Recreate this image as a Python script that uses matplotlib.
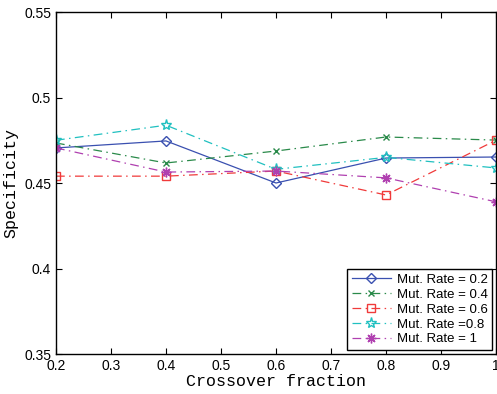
import matplotlib
matplotlib.use("Agg")
import matplotlib.pyplot as plt

x = [0.2, 0.4, 0.6, 0.8, 1.0]
labels = ["Mut. Rate = 0.2", "Mut. Rate = 0.4", "Mut. Rate = 0.6", "Mut. Rate =0.8", "Mut. Rate = 1"]
s02 = [0.4705, 0.4746, 0.4500, 0.4646, 0.4652]
s04 = [0.4734, 0.4617, 0.4687, 0.4769, 0.4751]
s06 = [0.4540, 0.4540, 0.4570, 0.4430, 0.4750]
s08 = [0.4750, 0.4838, 0.4580, 0.4650, 0.4588]
s10 = [0.4705, 0.4564, 0.4570, 0.4530, 0.4390]
xticks = [0.2, 0.3, 0.4, 0.5, 0.6, 0.7, 0.8, 0.9, 1]
yticks = [0.35, 0.4, 0.45, 0.5, 0.55]

plt.rcParams['font.family'] = ['Liberation Sans', 'DejaVu Sans']
fig = plt.figure(figsize=(4.97, 3.94), dpi=100)
ax = fig.add_axes([56/497, 40/394, 440/497, 342/394])

dd = (0, (7, 3.5, 1.2, 3.5))
styles = [
    (s02, '#3a50b0', '-', 'D', 5.5),
    (s04, '#2a8a4a', dd, 'x', 5),
    (s06, '#f03a3a', dd, 's', 6),
    (s08, '#20c0c0', dd, '*', 8),
    (s10, '#b040b0', dd, (8, 2, 0), 7),
]
for (vals, c, ls, m, ms), lab in zip(styles, labels):
    ax.plot(x, vals, color=c, linestyle=ls, marker=m, markersize=ms,
            markerfacecolor='none', markeredgecolor=c, linewidth=0.9,
            markeredgewidth=1.0, label=lab)

ax.set_xlim(0.2, 1.0)
ax.set_ylim(0.35, 0.55)
ax.set_xticks(xticks)
ax.set_xticklabels(['0.2', '0.3', '0.4', '0.5', '0.6', '0.7', '0.8', '0.9', '1'])
ax.set_yticks(yticks)
ax.set_yticklabels(['0.35', '0.4', '0.45', '0.5', '0.55'])
ax.tick_params(direction='in', length=4, labelsize=10, top=True, right=True)
for sp in ax.spines.values():
    sp.set_linewidth(1.0)
ax.set_xlabel('Crossover fraction', family='Liberation Mono', fontsize=12, labelpad=1)
ax.set_ylabel('Specificity', family='Liberation Mono', fontsize=12, labelpad=4)
leg = ax.legend(loc='lower right', fontsize=9.5, fancybox=False, edgecolor='black',
                framealpha=1, borderpad=0.35, labelspacing=0.2, handlelength=3.0,
                borderaxespad=0.3, handletextpad=0.4)
leg.get_frame().set_linewidth(1.0)
fig.savefig('out.png', dpi=100)
